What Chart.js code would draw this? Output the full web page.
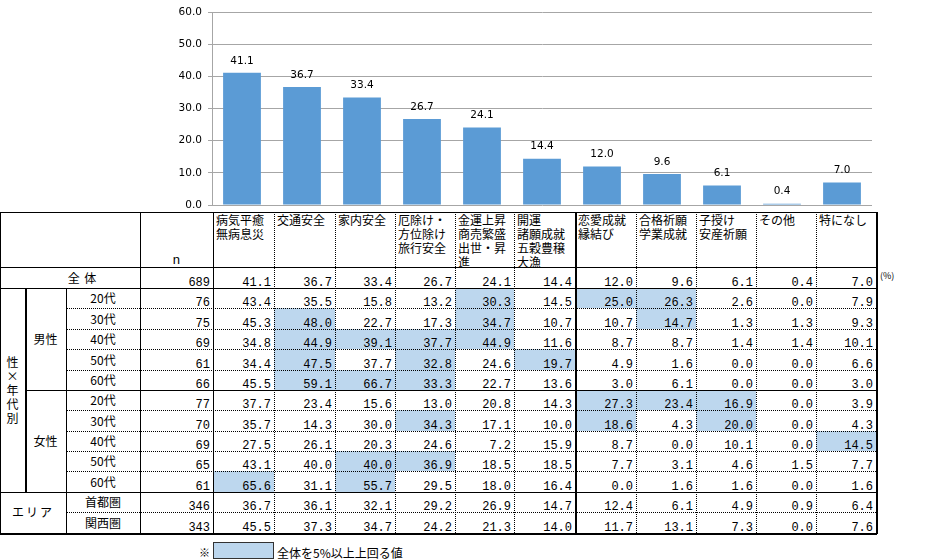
<!DOCTYPE html>
<html><head><meta charset="utf-8">
<script src="https://cdn.jsdelivr.net/npm/chart.js@4/dist/chart.umd.min.js"></script>
<style>
body{margin:0;background:#fff;width:951px;height:560px;overflow:hidden;position:relative;font-family:"Noto Sans CJK JP",sans-serif;color:#000;}
#chart{position:absolute;left:0;top:0;}
.t{position:absolute;white-space:pre;box-sizing:border-box;}
.num{font-family:"Liberation Mono",monospace;font-size:12px;line-height:14px;}
.jp{font-family:"Noto Sans CJK JP",sans-serif;font-size:12px;line-height:14px;}
.hl{position:absolute;background:#BDD7EE;}
.ln{position:absolute;}
</style></head><body>
<canvas id="chart" width="951" height="212"></canvas>
<div id="tbl"></div>
<script>
// ---- data ----
const categories = ['病気平癒 無病息災','交通安全','家内安全','厄除け・方位除け旅行安全','金運上昇商売繁盛出世・昇進','開運諸願成就五穀豊穣大漁','恋愛成就縁結び','合格祈願学業成就','子授け安産祈願','その他','特になし'];
const headerLines = [['病気平癒','無病息災'],['交通安全'],['家内安全'],['厄除け・','方位除け','旅行安全'],['金運上昇','商売繁盛','出世・昇','進'],['開運','諸願成就','五穀豊穣','大漁'],['恋愛成就','縁結び'],['合格祈願','学業成就'],['子授け','安産祈願'],['その他'],['特になし']];
const overallN = 689;
const overall = [41.1,36.7,33.4,26.7,24.1,14.4,12.0,9.6,6.1,0.4,7.0];
const ageLabels = ['20代','30代','40代','50代','60代'];
const maleN = [76,75,69,61,66];
const male = [
  [43.4,35.5,15.8,13.2,30.3,14.5,25.0,26.3,2.6,0.0,7.9],
  [45.3,48.0,22.7,17.3,34.7,10.7,10.7,14.7,1.3,1.3,9.3],
  [34.8,44.9,39.1,37.7,44.9,11.6,8.7,8.7,1.4,1.4,10.1],
  [34.4,47.5,37.7,32.8,24.6,19.7,4.9,1.6,0.0,0.0,6.6],
  [45.5,59.1,66.7,33.3,22.7,13.6,3.0,6.1,0.0,0.0,3.0]
];
const femaleN = [77,70,69,65,61];
const female = [
  [37.7,23.4,15.6,13.0,20.8,14.3,27.3,23.4,16.9,0.0,3.9],
  [35.7,14.3,30.0,34.3,17.1,10.0,18.6,4.3,20.0,0.0,4.3],
  [27.5,26.1,20.3,24.6,7.2,15.9,8.7,0.0,10.1,0.0,14.5],
  [43.1,40.0,40.0,36.9,18.5,18.5,7.7,3.1,4.6,1.5,7.7],
  [65.6,31.1,55.7,29.5,18.0,16.4,0.0,1.6,1.6,0.0,1.6]
];
const areaLabels = ['首都圏','関西圏'];
const areaN = [346,343];
const area = [
  [36.7,36.1,32.1,29.2,26.9,14.7,12.4,6.1,4.9,0.9,6.4],
  [45.5,37.3,34.7,24.2,21.3,14.0,11.7,13.1,7.3,0.0,7.6]
];
const yTicks = [0,10,20,30,40,50,60];

// ---- chart ----
const dataLabelPlugin = {
  id:'dl',
  afterDatasetsDraw(chart){
    const ctx = chart.ctx, meta = chart.getDatasetMeta(0);
    ctx.save();
    ctx.font = '10.5px "DejaVu Sans"';
    ctx.fillStyle = '#000';
    ctx.textAlign = 'center';
    ctx.textBaseline = 'middle';
    meta.data.forEach((el,i)=>ctx.fillText(overall[i].toFixed(1), el.x, el.y-12));
    ctx.restore();
  }
};
new Chart(document.getElementById('chart'), {
  type:'bar',
  data:{labels:categories, datasets:[{data:overall, backgroundColor:'#5B9BD5', barPercentage:0.63, categoryPercentage:1}]},
  options:{
    responsive:false, animation:false,
    plugins:{legend:{display:false}, tooltip:{enabled:false}},
    layout:{padding:{left:0,right:79,top:12,bottom:7}},
    scales:{
      x:{display:false},
      y:{min:yTicks[0], max:yTicks[yTicks.length-1],
         afterBuildTicks(s){ s.ticks = yTicks.map(v=>({value:v})); },
         ticks:{callback:v=>Number(v).toFixed(1), font:{family:'DejaVu Sans', size:10.5}, color:'#000', padding:6},
         grid:{color:'#a6a6a6', tickLength:4, lineWidth:1},
         border:{color:'#a6a6a6'},
         afterFit(s){ s.width = 212; s.paddingTop = 0; s.paddingBottom = 0; }
      }
    }
  },
  plugins:[dataLabelPlugin]
});

// ---- table ----
const tbl = document.getElementById('tbl');
const colE = [0,25,66,140,213,274,335,395,455,514,575,636,696,756,816,876];
const rowE = [212,267,288,308,329,349,370,390,410,431,451,471,492,512,533];
function el(cls, l, t, w, h, txt, style){
  const d = document.createElement('div');
  d.className = cls;
  d.style.left = l+'px'; d.style.top = t+'px';
  if (w!=null) d.style.width = w+'px';
  if (h!=null) d.style.height = h+'px';
  if (txt!=null) d.textContent = txt;
  if (style) Object.assign(d.style, style);
  tbl.appendChild(d);
  return d;
}
function numCell(l, r, bottom, txt){ el('t num', l, bottom-12, r-l, 14, txt, {textAlign:'right', paddingRight:'3px'}); }
function jpCell(l, r, bottom, txt){ el('t jp', l, bottom-17.5, r-l, 14, txt, {textAlign:'center'}); }

// data rows
const allRows = [];
allRows.push({vals:overall, n:overallN, top:rowE[1], bot:rowE[2]});
male.forEach((v,i)=>allRows.push({vals:v, n:maleN[i], label:ageLabels[i], top:rowE[2+i], bot:rowE[3+i]}));
female.forEach((v,i)=>allRows.push({vals:v, n:femaleN[i], label:ageLabels[i], top:rowE[7+i], bot:rowE[8+i]}));
area.forEach((v,i)=>allRows.push({vals:v, n:areaN[i], label:areaLabels[i], top:rowE[12+i], bot:rowE[13+i]}));

allRows.forEach((row,ri)=>{
  row.vals.forEach((v,ci)=>{
    const l = colE[4+ci], r = colE[5+ci];
    if (ri>0 && v - overall[ci] >= 4.95) el('hl', l, row.top, r-l, row.bot-row.top);
    numCell(l, r, row.bot, v.toFixed(1));
  });
  numCell(colE[3], colE[4], row.bot, String(row.n));
  if (row.label) jpCell(colE[2], colE[3], row.bot, row.label);
});
// total label
el('t jp', 25, rowE[2]-17.5, 115, 14, '全 体', {textAlign:'center', letterSpacing:'1px'});
el('t', 880, 270, 22, 12, '(%)', {fontFamily:'"Noto Sans CJK JP"', fontSize:'9px', lineHeight:'12px'});
// header
headerLines.forEach((lines,ci)=>{
  const l = colE[4+ci], r = colE[5+ci];
  el('t jp', l+3, 213, r-l-3, rowE[1]-213, lines.join('\n'), {overflow:'hidden'});
});
el('t num', colE[3], rowE[1]-13, colE[4]-colE[3], 14, 'n', {textAlign:'center', fontSize:'13px'});
// group labels
el('t jp', colE[1], (rowE[2]+rowE[7])/2-7.5, colE[2]-colE[1], 14, '男性', {textAlign:'center'});
el('t jp', colE[1], (rowE[7]+rowE[12])/2-7.5, colE[2]-colE[1], 14, '女性', {textAlign:'center'});
el('t jp', colE[0], (rowE[2]+rowE[12])/2-35.5, colE[1]-colE[0], 70, '性\n×\n年\n代\n別', {textAlign:'center'});
el('t jp', colE[0], (rowE[12]+rowE[14])/2-7.5, colE[2]-colE[0], 14, 'エリア', {textAlign:'center', letterSpacing:'2px'});

// lines
function hLine(x1,x2,y,style,w){ el('ln', x1, y, x2-x1, 0, null, {borderTop:(w||1)+'px '+style+' #000'}); }
function vLine(x,y1,y2,style,w){ el('ln', x-(w||1)/2+0.5, y1, 0, y2-y1, null, {borderLeft:(w||1)+'px '+style+' #000'}); }
const R = colE[15];
hLine(0,R,rowE[0],'solid');
hLine(0,R,rowE[1],'solid');
hLine(0,R,rowE[2],'solid');
[3,4,5,6].forEach(i=>hLine(colE[2],R,rowE[i],'dotted'));
hLine(colE[1],R,rowE[7],'solid');
[8,9,10,11].forEach(i=>hLine(colE[2],R,rowE[i],'dotted'));
hLine(0,R,rowE[12],'solid');
hLine(colE[2],R,rowE[13],'dotted');
hLine(0,R+1,rowE[14],'solid',2);
vLine(0,rowE[0],rowE[14],'solid');
vLine(colE[1],rowE[2],rowE[12],'solid',2);
vLine(colE[2],rowE[2],rowE[14],'solid');
vLine(colE[3],rowE[0],rowE[14],'solid');
vLine(colE[4],rowE[0],rowE[14],'solid');
[5,6,7,8,9,11,12,13,14].forEach(i=>vLine(colE[i],rowE[0],rowE[14],'dotted'));
vLine(colE[10],rowE[0],rowE[14],'solid',2);
vLine(colE[15],rowE[0],rowE[14]+1,'solid',2);

// legend
el('t jp', 199, 545, 14, 14, '※', {fontSize:'11px'});
el('ln', 213, 542, 61, 17, null, {background:'#BDD7EE', border:'1px solid #333', boxSizing:'border-box'});
el('t jp', 277, 546, 160, 14, '全体を5%以上上回る値');
</script>
</body></html>
